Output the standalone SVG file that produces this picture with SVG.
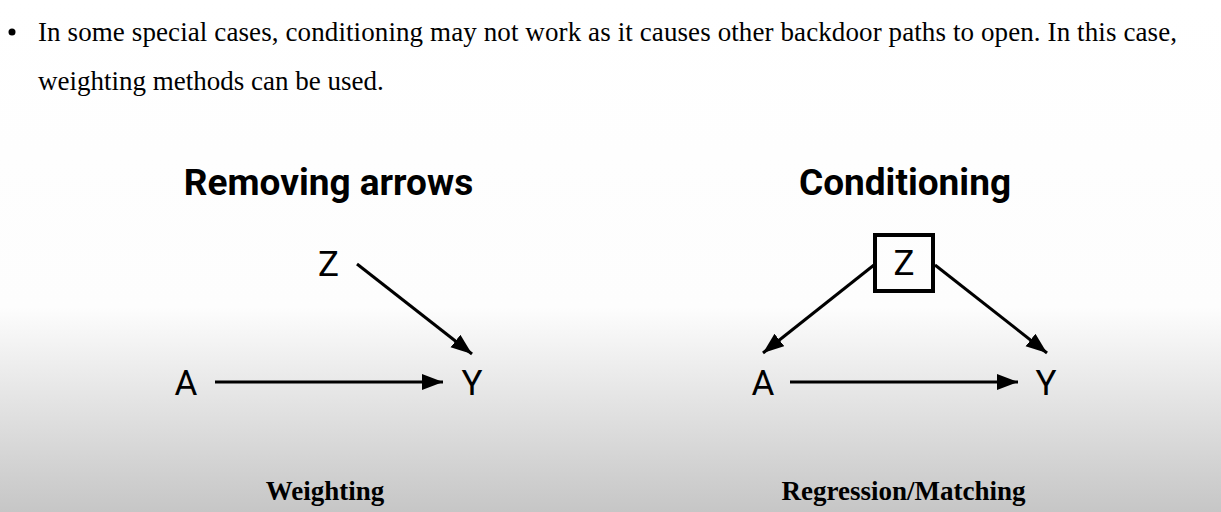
<svg xmlns="http://www.w3.org/2000/svg" width="1221" height="512" viewBox="0 0 1221 512">
  <defs>
    <linearGradient id="bg" x1="0" y1="0" x2="0" y2="512" gradientUnits="userSpaceOnUse">
      <stop offset="0" stop-color="#ffffff"/>
      <stop offset="0.6" stop-color="#fdfdfd"/>
      <stop offset="0.73" stop-color="#ebebeb"/>
      <stop offset="1" stop-color="#c6c6c6"/>
    </linearGradient>
    <marker id="ah" markerUnits="userSpaceOnUse" markerWidth="24" markerHeight="18" refX="21" refY="8" orient="auto">
      <path d="M0,0 L21,8 L0,16 z" fill="#000"/>
    </marker>
    <style>
      .body { font-family: "Liberation Serif", "Times New Roman", serif; font-size: 27px; fill: #000; }
      .title { font-family: Roboto, "Liberation Sans", sans-serif; font-weight: 700; font-size: 37px; fill: #000; text-anchor: middle; }
      .node { font-family: Roboto, "Liberation Sans", sans-serif; font-weight: 400; font-size: 35px; fill: #000; text-anchor: middle; }
      .cap { font-family: "Liberation Serif", "Times New Roman", serif; font-weight: 700; font-size: 27px; fill: #000; text-anchor: middle; }
      .edge { stroke: #000; stroke-width: 3; fill: none; marker-end: url(#ah); }
    </style>
  </defs>
  <rect x="0" y="0" width="1221" height="512" fill="url(#bg)"/>

  <g id="bullet-text">
    <circle cx="12" cy="32" r="3.5" fill="#000"/>
    <text class="body" x="38" y="41" textLength="1139" lengthAdjust="spacing">In some special cases, conditioning may not work as it causes other backdoor paths to open. In this case,</text>
    <text class="body" x="38" y="90">weighting methods can be used.</text>
  </g>

  <g id="left-title"><text class="title" x="328.5" y="195">Removing arrows</text></g>
  <g id="right-title"><text class="title" x="905" y="195">Conditioning</text></g>

  <g id="connectors">
    <line class="edge" x1="215" y1="382" x2="443" y2="382"/>
    <line class="edge" x1="357" y1="264" x2="472" y2="354"/>
    <line class="edge" x1="874" y1="265" x2="763" y2="353"/>
    <line class="edge" x1="935" y1="265" x2="1047" y2="353"/>
    <line class="edge" x1="790" y1="382" x2="1018" y2="382"/>
  </g>

  <g id="L-Z"><text class="node" x="328.5" y="276">Z</text></g>
  <g id="L-A"><text class="node" x="186" y="395">A</text></g>
  <g id="L-Y"><text class="node" x="472" y="395">Y</text></g>

  <g id="R-Z">
    <rect x="875" y="235" width="58" height="56" fill="none" stroke="#000" stroke-width="4"/>
    <text class="node" x="904" y="275">Z</text>
  </g>
  <g id="R-A"><text class="node" x="763" y="395">A</text></g>
  <g id="R-Y"><text class="node" x="1046" y="395">Y</text></g>

  <g id="captions">
    <text class="cap" x="325" y="500">Weighting</text>
    <text class="cap" x="903.5" y="500">Regression/Matching</text>
  </g>
</svg>
